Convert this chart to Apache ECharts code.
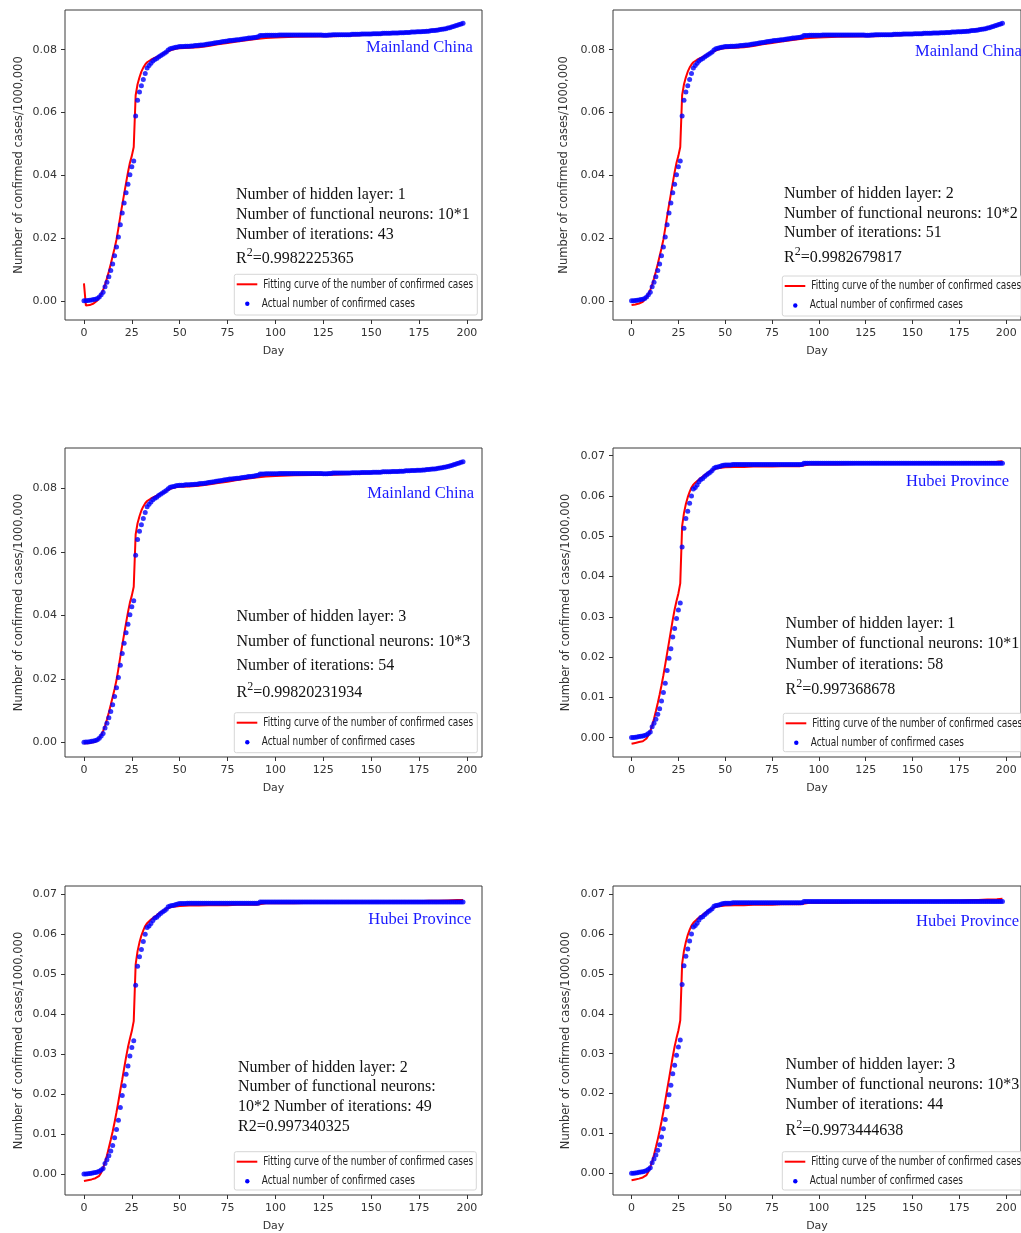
<!DOCTYPE html>
<html>
<head>
<meta charset="utf-8">
<script src="https://cdn.jsdelivr.net/npm/echarts@6/dist/echarts.min.js"></script>
<style>
html,body{margin:0;padding:0;background:#fff;}
#chart{width:1021px;height:1233px;}
</style>
</head>
<body>
<div id="chart"></div>
<script>
// ---------------- DATA ----------------
const xTicks = [0, 25, 50, 75, 100, 125, 150, 175, 200];
const chinaTicks = [0, 0.02, 0.04, 0.06, 0.08];
const hubeiTicks = [0, 0.01, 0.02, 0.03, 0.04, 0.05, 0.06, 0.07];

// Actual confirmed cases / 1,000,000, one value per day (day 0 .. 198)
const chinaActual = [
  0.00005, 0.00006, 0.00012, 0.0002, 0.0003, 0.00044, 0.00057, 0.00083, 0.0013, 0.002,
  0.0028, 0.0045, 0.006, 0.0077, 0.0097, 0.0118, 0.0144, 0.0172, 0.0204, 0.0243,
  0.028, 0.0312, 0.0345, 0.0372, 0.0402, 0.0427, 0.0446, 0.0589, 0.0639, 0.0665,
  0.0685, 0.0705, 0.0724, 0.0742, 0.0750, 0.0757, 0.0764, 0.0769, 0.0772, 0.0777,
  0.0781, 0.0785, 0.0789, 0.0793, 0.0799, 0.0803, 0.0805, 0.0806, 0.0808, 0.0809,
  0.0810, 0.0810, 0.0810, 0.0811, 0.0811, 0.0811, 0.0812, 0.0812, 0.0813, 0.0813,
  0.0814, 0.0815, 0.0815, 0.0816, 0.0817, 0.0818, 0.0819, 0.0820, 0.0821, 0.0822,
  0.0823, 0.0824, 0.0825, 0.0826, 0.0827, 0.0828, 0.0829, 0.0829, 0.0830, 0.0831,
  0.0832, 0.0832, 0.0833, 0.0834, 0.0835, 0.0836, 0.0837, 0.0837, 0.0838, 0.0839,
  0.0840, 0.0841, 0.0845, 0.0845, 0.0845, 0.0846, 0.0846, 0.0846, 0.0846, 0.0846,
  0.0846, 0.0846, 0.0847, 0.0847, 0.0847, 0.0847, 0.0847, 0.0847, 0.0847, 0.0847,
  0.0847, 0.0847, 0.0847, 0.0847, 0.0847, 0.0847, 0.0847, 0.0847, 0.0847, 0.0847,
  0.0847, 0.0847, 0.0847, 0.0847, 0.0847, 0.0846, 0.0846, 0.0846, 0.0847, 0.0847,
  0.0848, 0.0848, 0.0848, 0.0848, 0.0848, 0.0848, 0.0848, 0.0848, 0.0848, 0.0848,
  0.0849, 0.0849, 0.0849, 0.0849, 0.0849, 0.0850, 0.0850, 0.0850, 0.0850, 0.0850,
  0.0850, 0.0851, 0.0851, 0.0851, 0.0851, 0.0851, 0.0852, 0.0852, 0.0852, 0.0852,
  0.0852, 0.0853, 0.0853, 0.0853, 0.0853, 0.0854, 0.0854, 0.0854, 0.0855, 0.0855,
  0.0855, 0.0856, 0.0856, 0.0856, 0.0857, 0.0857, 0.0857, 0.0858, 0.0858, 0.0859,
  0.0859, 0.0860, 0.0861, 0.0861, 0.0862, 0.0863, 0.0864, 0.0865, 0.0866, 0.0867,
  0.0869, 0.0870, 0.0872, 0.0874, 0.0876, 0.0878, 0.0880, 0.0882, 0.0884
];

const hubeiActual = [
  0.00004, 0.00005, 0.0001, 0.00015, 0.00027, 0.00037, 0.00044, 0.00055, 0.00073, 0.00105,
  0.0014, 0.0027, 0.0036, 0.0046, 0.0058, 0.0072, 0.0091, 0.0112, 0.0135, 0.0167,
  0.0197, 0.0221, 0.0250, 0.0271, 0.0296, 0.0317, 0.0334, 0.0473, 0.0520, 0.0544,
  0.0562, 0.0582, 0.0600, 0.0617, 0.0621, 0.0627, 0.0635, 0.0641, 0.0643, 0.0648,
  0.0652, 0.0656, 0.0659, 0.0663, 0.0669, 0.0671, 0.0672, 0.0673, 0.0675, 0.0676,
  0.0677, 0.0677, 0.0677, 0.0677, 0.0678, 0.0678, 0.0678, 0.0678, 0.0678, 0.0678,
  0.0678, 0.0678, 0.0678, 0.0678, 0.0678, 0.0678, 0.0678, 0.0678, 0.0678, 0.0678,
  0.0678, 0.0678, 0.0678, 0.0678, 0.0678, 0.0678, 0.0678, 0.0678, 0.0678, 0.0678,
  0.0678, 0.0678, 0.0678, 0.0678, 0.0678, 0.0678, 0.0678, 0.0678, 0.0678, 0.0678,
  0.0678, 0.0678, 0.0681, 0.0681, 0.0681, 0.0681, 0.0681, 0.0681, 0.0681, 0.0681,
  0.0681, 0.0681, 0.0681, 0.0681, 0.0681, 0.0681, 0.0681, 0.0681, 0.0681, 0.0681,
  0.0681, 0.0681, 0.0681, 0.0681, 0.0681, 0.0681, 0.0681, 0.0681, 0.0681, 0.0681,
  0.0681, 0.0681, 0.0681, 0.0681, 0.0681, 0.0681, 0.0681, 0.0681, 0.0681, 0.0681,
  0.0681, 0.0681, 0.0681, 0.0681, 0.0681, 0.0681, 0.0681, 0.0681, 0.0681, 0.0681,
  0.0681, 0.0681, 0.0681, 0.0681, 0.0681, 0.0681, 0.0681, 0.0681, 0.0681, 0.0681,
  0.0681, 0.0681, 0.0681, 0.0681, 0.0681, 0.0681, 0.0681, 0.0681, 0.0681, 0.0681,
  0.0681, 0.0681, 0.0681, 0.0681, 0.0681, 0.0681, 0.0681, 0.0681, 0.0681, 0.0681,
  0.0681, 0.0681, 0.0681, 0.0681, 0.0681, 0.0681, 0.0681, 0.0681, 0.0681, 0.0681,
  0.0681, 0.0681, 0.0681, 0.0681, 0.0681, 0.0681, 0.0681, 0.0681, 0.0681, 0.0681,
  0.0681, 0.0681, 0.0681, 0.0681, 0.0681, 0.0681, 0.0681, 0.0681, 0.0681
];

// Fitted curves: vertices read at these days
const fitDays = [0,1,2,3,4,5,6,7,8,9,10,11,12,13,14,15,16,17,18,19,20,21,22,23,24,25,26,27,28,29,30,31,32,33,34,35,36,38,40,42,44,46,48,50,55,60,65,70,75,80,85,90,95,100,110,120,130,140,150,160,170,175,180,185,190,195,198];

const fitChina1 = [0.0056,-0.0014,-0.0014,-0.0013,-0.0011,-0.0008,-0.0004,0.0002,0.0011,0.0022,
  0.0035,0.0052,0.0072,0.0094,0.0118,0.0143,0.0168,0.0196,0.0232,0.0270,
  0.0306,0.0341,0.0376,0.0410,0.0440,0.0462,0.0490,0.0655,0.0690,0.0712,
  0.0730,0.0743,0.0753,0.0760,0.0765,0.0768,0.0771,0.0777,0.0783,0.0789,
  0.0795,0.0800,0.0803,0.0805,0.0806,0.0808,0.0812,0.0817,0.0821,0.0826,
  0.0830,0.0834,0.0837,0.0839,0.0841,0.0842,0.0843,0.0845,0.0848,0.0851,
  0.0855,0.0858,0.0861,0.0865,0.0870,0.0877,0.0882];
const fitChina2 = [-0.0013,-0.0012,-0.0011,-0.0010,-0.0008,-0.0006,-0.0003,0.0003,0.0011,0.0022,
  0.0035,0.0052,0.0072,0.0094,0.0118,0.0143,0.0168,0.0196,0.0232,0.0270,
  0.0306,0.0341,0.0376,0.0410,0.0440,0.0462,0.0490,0.0655,0.0690,0.0712,
  0.0730,0.0743,0.0753,0.0760,0.0765,0.0768,0.0771,0.0777,0.0783,0.0789,
  0.0795,0.0800,0.0803,0.0805,0.0806,0.0808,0.0812,0.0817,0.0821,0.0826,
  0.0830,0.0834,0.0837,0.0839,0.0841,0.0842,0.0843,0.0845,0.0848,0.0851,
  0.0855,0.0858,0.0861,0.0865,0.0870,0.0877,0.0882];
const fitChina3 = [-0.0003,-0.0003,-0.0003,-0.0002,-0.0001,0.0000,0.0002,0.0006,0.0013,0.0023,
  0.0036,0.0052,0.0072,0.0094,0.0118,0.0143,0.0168,0.0196,0.0232,0.0270,
  0.0306,0.0341,0.0376,0.0410,0.0440,0.0462,0.0490,0.0655,0.0690,0.0712,
  0.0730,0.0743,0.0753,0.0760,0.0765,0.0768,0.0771,0.0777,0.0783,0.0789,
  0.0795,0.0800,0.0803,0.0805,0.0806,0.0808,0.0812,0.0817,0.0821,0.0826,
  0.0830,0.0834,0.0837,0.0839,0.0841,0.0842,0.0843,0.0845,0.0848,0.0851,
  0.0855,0.0858,0.0861,0.0865,0.0870,0.0877,0.0882];
const fitHubei1 = [-0.0015,-0.0014,-0.0013,-0.0012,-0.0011,-0.0010,-0.0009,-0.0007,-0.0002,0.0006,
  0.0016,0.0030,0.0047,0.0066,0.0086,0.0107,0.0130,0.0155,0.0182,0.0210,
  0.0237,0.0265,0.0293,0.0318,0.0339,0.0358,0.0383,0.0525,0.0558,0.0580,
  0.0597,0.0610,0.0621,0.0628,0.0633,0.0637,0.0641,0.0648,0.0655,0.0661,
  0.0666,0.0669,0.0670,0.0671,0.0672,0.0672,0.0673,0.0673,0.0673,0.0674,
  0.0674,0.0674,0.0678,0.0678,0.0678,0.0679,0.0679,0.0680,0.0680,0.0681,
  0.0682,0.0682,0.0683,0.0683,0.0684,0.0685,0.0686];
const fitHubei2 = [-0.0017,-0.0016,-0.0015,-0.0014,-0.0013,-0.0012,-0.0010,-0.0008,-0.0004,0.0004,
  0.0016,0.0030,0.0047,0.0066,0.0086,0.0107,0.0130,0.0155,0.0182,0.0210,
  0.0237,0.0265,0.0293,0.0318,0.0339,0.0358,0.0383,0.0525,0.0558,0.0580,
  0.0597,0.0610,0.0621,0.0628,0.0633,0.0637,0.0641,0.0648,0.0655,0.0661,
  0.0666,0.0669,0.0670,0.0671,0.0672,0.0672,0.0673,0.0673,0.0673,0.0674,
  0.0674,0.0674,0.0678,0.0678,0.0678,0.0679,0.0679,0.0680,0.0681,0.0682,
  0.0683,0.0683,0.0684,0.0684,0.0685,0.0686,0.0686];
const fitHubei3 = [-0.0017,-0.0016,-0.0015,-0.0014,-0.0013,-0.0012,-0.0010,-0.0008,-0.0004,0.0004,
  0.0016,0.0030,0.0047,0.0066,0.0086,0.0107,0.0130,0.0155,0.0182,0.0210,
  0.0237,0.0265,0.0293,0.0318,0.0339,0.0358,0.0383,0.0525,0.0558,0.0580,
  0.0597,0.0610,0.0621,0.0628,0.0633,0.0637,0.0641,0.0648,0.0655,0.0661,
  0.0666,0.0669,0.0670,0.0671,0.0672,0.0672,0.0673,0.0673,0.0673,0.0674,
  0.0674,0.0674,0.0678,0.0678,0.0678,0.0679,0.0679,0.0680,0.0681,0.0682,
  0.0683,0.0683,0.0684,0.0685,0.0686,0.0687,0.0688];

// ---------------- LAYOUT ----------------
const panels = [
  {grid:{left:65, top:10, width:417, height:310}, y:[-0.00605,0.09264], ticks:chinaTicks, actual:chinaActual, fit:fitChina1,
   region:'Mainland China', regionPos:[366,49.5], nameGap:40,
   lines:['Number of hidden layer: 1','Number of functional neurons: 10*1','Number of iterations: 43'], r2:'=0.9982225365', sup:true,
   textX:236, textY:[195,215,234.5,256.5], legend:[234.3,274.3,243,40.7]},
  {grid:{left:613, top:10, width:415, height:310}, y:[-0.00605,0.09264], ticks:chinaTicks, actual:chinaActual, fit:fitChina2,
   region:'Mainland China', regionPos:[915,53.5], nameGap:43,
   lines:['Number of hidden layer: 2','Number of functional neurons: 10*2','Number of iterations: 51'], r2:'=0.9982679817', sup:true,
   textX:784, textY:[193.5,213.5,232.5,256], legend:[782.3,276,250,40]},
  {grid:{left:65, top:448, width:417, height:309}, y:[-0.00463,0.0927], ticks:chinaTicks, actual:chinaActual, fit:fitChina3,
   region:'Mainland China', regionPos:[367.3,495], nameGap:40,
   lines:['Number of hidden layer: 3','Number of functional neurons: 10*3','Number of iterations: 54'], r2:'=0.99820231934', sup:true,
   textX:236.5, textY:[616.5,641.5,666,690.5], legend:[234.3,712.7,243,40]},
  {grid:{left:613, top:448, width:415, height:309}, y:[-0.0048,0.0719], ticks:hubeiTicks, actual:hubeiActual, fit:fitHubei1,
   region:'Hubei Province', regionPos:[906,483.3], nameGap:41,
   lines:['Number of hidden layer: 1','Number of functional neurons: 10*1','Number of iterations: 58'], r2:'=0.997368678', sup:true,
   textX:785.5, textY:[624,644,664.5,687.5], legend:[783.3,713.3,250,38.4]},
  {grid:{left:65, top:886, width:417, height:310}, y:[-0.0052,0.0721], ticks:hubeiTicks, actual:hubeiActual, fit:fitHubei2,
   region:'Hubei Province', regionPos:[368.3,921], nameGap:40,
   lines:['Number of hidden layer: 2','Number of functional neurons:','10*2 Number of iterations: 49'], r2:'R2=0.997340325', sup:false,
   textX:238, textY:[1067.5,1087,1107,1127], legend:[234.3,1151.7,242,38.3]},
  {grid:{left:613, top:886, width:415, height:310}, y:[-0.0054,0.0720], ticks:hubeiTicks, actual:hubeiActual, fit:fitHubei3,
   region:'Hubei Province', regionPos:[916,923.3], nameGap:41,
   lines:['Number of hidden layer: 3','Number of functional neurons: 10*3','Number of iterations: 44'], r2:'=0.9973444638', sup:true,
   textX:785.5, textY:[1064.5,1085,1105,1128.5], legend:[782.3,1151.7,250,38.3]}
];

const SERIF = '"Liberation Serif","DejaVu Serif",serif';
const LEGFONT = '"DejaVu Sans",sans-serif';
const SANS = '"DejaVu Sans",sans-serif';

const option = {
  animation: false,
  backgroundColor: '#fff',
  grid: [], xAxis: [], yAxis: [], series: [], graphic: []
};

panels.forEach((p, i) => {
  option.grid.push(Object.assign({show:true, borderColor:'#3a3a3a', borderWidth:1, containLabel:false}, p.grid));
  option.xAxis.push({
    type:'value', gridIndex:i, min:-9.9, max:207.9,
    name:'Day', nameLocation:'middle', nameGap:26,
    nameTextStyle:{fontFamily:SANS, fontSize:11, color:'#333'},
    axisLine:{show:false, onZero:false},
    axisTick:{show:true, inside:false, length:4, customValues:xTicks, lineStyle:{color:'#333'}},
    axisLabel:{fontFamily:SANS, fontSize:11, color:'#333', margin:8, customValues:xTicks},
    splitLine:{show:false}
  });
  option.yAxis.push({
    type:'value', gridIndex:i, min:p.y[0], max:p.y[1],
    name:'Number of confirmed cases/1000,000', nameLocation:'middle', nameGap:p.nameGap,
    nameTextStyle:{fontFamily:SANS, fontSize:11.5, color:'#333'},
    axisLine:{show:false, onZero:false},
    axisTick:{show:true, inside:false, length:4, customValues:p.ticks, lineStyle:{color:'#333'}},
    axisLabel:{fontFamily:SANS, fontSize:11, color:'#333', margin:8, customValues:p.ticks,
      formatter:(v)=>v.toFixed(2)},
    splitLine:{show:false}
  });
  option.series.push({
    type:'line', name:'Fitting curve of the number of confirmed cases', xAxisIndex:i, yAxisIndex:i,
    data: fitDays.map((d,k)=>[d, p.fit[k]]),
    showSymbol:false, symbol:'none', lineStyle:{color:'#ff0000', width:2}, z:2, silent:true
  });
  option.series.push({
    type:'scatter', name:'Actual number of confirmed cases', xAxisIndex:i, yAxisIndex:i,
    data: p.actual.map((v,d)=>[d, v]),
    symbolSize:5, itemStyle:{color:'#0000ff'}, z:3, silent:true
  });

  // region label
  option.graphic.push({type:'text', left:p.regionPos[0], top:p.regionPos[1]-10, silent:true,
    style:{text:p.region, font:'16.5px '+SERIF, fill:'#1a1aff'}});
  // annotation text
  p.lines.forEach((t,k)=>{
    option.graphic.push({type:'text', x:p.textX, y:p.textY[k], silent:true,
      style:{text:t, font:'16px '+SERIF, fill:'#111', textVerticalAlign:'middle'}});
  });
  if (p.sup) {
    option.graphic.push({type:'text', x:p.textX, y:p.textY[3], silent:true,
      style:{text:'{a|R}{s|2}{a|'+p.r2+'}', textVerticalAlign:'middle',
        rich:{a:{font:'16px '+SERIF, fill:'#111', lineHeight:20, verticalAlign:'bottom'},
              s:{font:'12px '+SERIF, fill:'#111', lineHeight:20, verticalAlign:'top'}}}});
  } else {
    option.graphic.push({type:'text', x:p.textX, y:p.textY[3], silent:true,
      style:{text:p.r2, font:'16px '+SERIF, fill:'#111', textVerticalAlign:'middle'}});
  }
  // legend
  const [L,T,W,H] = p.legend;
  option.graphic.push({type:'rect', silent:true, shape:{x:L, y:T, width:W, height:H, r:2},
    style:{fill:'rgba(255,255,255,0.85)', stroke:'#d6d6d6', lineWidth:1}, z:10});
  option.graphic.push({type:'line', silent:true, shape:{x1:L+2.4, y1:T+10, x2:L+23, y2:T+10},
    style:{stroke:'#ff0000', lineWidth:2}, z:11});
  option.graphic.push({type:'circle', silent:true, shape:{cx:L+13, cy:T+29.5, r:2.2},
    style:{fill:'#0000ff'}, z:11});
  option.graphic.push({type:'text', silent:true, x:L+29, y:T+10, scaleX:0.715, z:11,
    style:{text:'Fitting curve of the number of confirmed cases', font:'12.5px '+LEGFONT, fill:'#222', textVerticalAlign:'middle'}});
  option.graphic.push({type:'text', silent:true, x:L+27.4, y:T+29, scaleX:0.715, z:11,
    style:{text:'Actual number of confirmed cases', font:'12.5px '+LEGFONT, fill:'#222', textVerticalAlign:'middle'}});
});

const chart = echarts.init(document.getElementById('chart'), null, {renderer:'canvas', width:1021, height:1233});
chart.setOption(option);
</script>
</body>
</html>
